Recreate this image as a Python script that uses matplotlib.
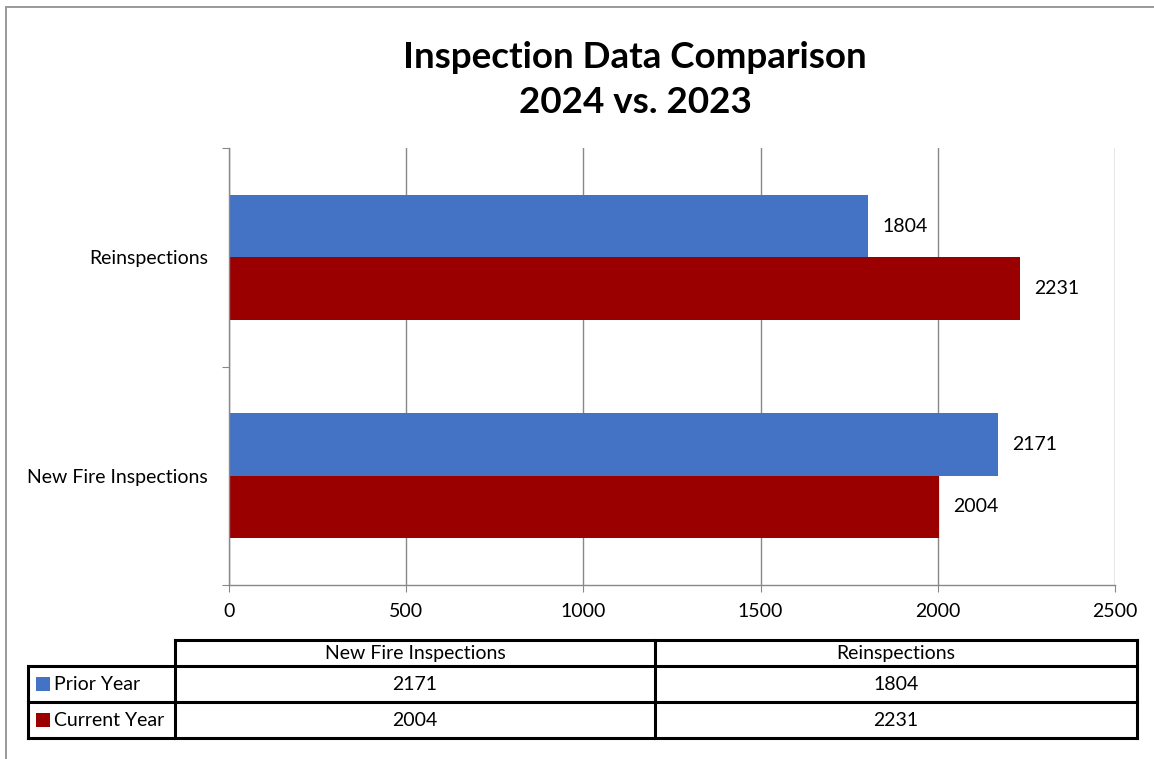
import matplotlib
matplotlib.use("Agg")
import matplotlib.pyplot as plt
from matplotlib.patches import Rectangle
from matplotlib.lines import Line2D

# ================== DATA ==================
categories = ["New Fire Inspections", "Reinspections"]
series_names = ["Prior Year", "Current Year"]
prior_year = [2171, 1804]
current_year = [2004, 2231]
x_ticks = [0, 500, 1000, 1500, 2000, 2500]
title = "Inspection Data Comparison\n2024 vs. 2023"

colors = ["#4472C4", "#9B0000"]
grid_color = "#888888"
font = ["Lato", "DejaVu Sans"]

W, H = 1154, 759
fig = plt.figure(figsize=(W / 100, H / 100), dpi=100)
plt.rcParams["font.family"] = font


def fx(px):
    return px / W


def fy(py):
    return 1 - py / H


# outer frame of the chart (right and bottom edges run off the picture)
fig.patches.append(Rectangle((fx(6), fy(790)), fx(1190) - fx(6), fy(7) - fy(790),
                             transform=fig.transFigure, fill=False,
                             edgecolor="#999999", linewidth=1.4))

# title
fig.text(fx(635), fy(80), title, ha="center", va="center", fontsize=26.5,
         fontweight="bold", linespacing=1.45)

# ================== BAR CHART ==================
ax = fig.add_axes([fx(229), fy(585), fx(1115) - fx(229), fy(148) - fy(585)])
h = 0.286
ypos = list(range(len(categories)))
bars_prior = ax.barh([y + h / 2 for y in ypos], prior_year, height=h, color=colors[0])
bars_curr = ax.barh([y - h / 2 for y in ypos], current_year, height=h, color=colors[1])

for bars in (bars_prior, bars_curr):
    for b in bars:
        ax.annotate(f"{int(b.get_width())}", (b.get_width(), b.get_y() + b.get_height() / 2),
                    xytext=(14, 0), textcoords="offset pixels", ha="left", va="center",
                    fontsize=14)

ax.set_xlim(0, 2500)
ax.set_ylim(-0.5, len(categories) - 0.5)
ax.set_xticks(x_ticks)
ax.set_xticklabels([str(t) for t in x_ticks], fontsize=14)
ax.tick_params(axis="x", length=5, color=grid_color, pad=8)
ax.xaxis.grid(True, color=grid_color, linewidth=1)
ax.set_axisbelow(True)

ax.set_yticks([-0.5 + i for i in range(len(categories) + 1)])
ax.set_yticklabels([])
ax.set_yticks(ypos, minor=True)
ax.set_yticklabels(categories, minor=True, fontsize=14)
ax.tick_params(axis="y", which="major", length=5, color=grid_color)
ax.tick_params(axis="y", which="minor", length=0, pad=15)

for s in ["top", "right"]:
    ax.spines[s].set_visible(False)
for s in ["left", "bottom"]:
    ax.spines[s].set_color(grid_color)
    ax.spines[s].set_linewidth(1)

# ================== DATA TABLE ==================
col_x = [28, 175, 655, 1137]
row_y = [640, 666, 702, 738]
lw = 2.2


def hline(x0, x1, y):
    fig.lines.append(Line2D([fx(x0), fx(x1)], [fy(y), fy(y)], transform=fig.transFigure,
                            color="black", linewidth=lw, solid_capstyle="projecting"))


def vline(x, y0, y1):
    fig.lines.append(Line2D([fx(x), fx(x)], [fy(y0), fy(y1)], transform=fig.transFigure,
                            color="black", linewidth=lw, solid_capstyle="projecting"))


hline(col_x[1], col_x[3], row_y[0])
for y in row_y[1:]:
    hline(col_x[0], col_x[3], y)
vline(col_x[0], row_y[1], row_y[3])
for x in col_x[1:]:
    vline(x, row_y[0], row_y[3])

# header row
for j, cat in enumerate(categories):
    cx = (col_x[j + 1] + col_x[j + 2]) / 2
    fig.text(fx(cx), fy((row_y[0] + row_y[1]) / 2), cat, ha="center", va="center", fontsize=14)

# series rows
for i, (name, vals) in enumerate(zip(series_names, [prior_year, current_year])):
    cy = (row_y[i + 1] + row_y[i + 2]) / 2
    fig.patches.append(Rectangle((fx(36), fy(cy + 7)), fx(14), 14 / H,
                                 transform=fig.transFigure, facecolor=colors[i],
                                 edgecolor="none"))
    fig.text(fx(54), fy(cy), name, ha="left", va="center", fontsize=14)
    for j, v in enumerate(vals):
        cx = (col_x[j + 1] + col_x[j + 2]) / 2
        fig.text(fx(cx), fy(cy), str(v), ha="center", va="center", fontsize=14)

fig.savefig("out.png", dpi=100)
